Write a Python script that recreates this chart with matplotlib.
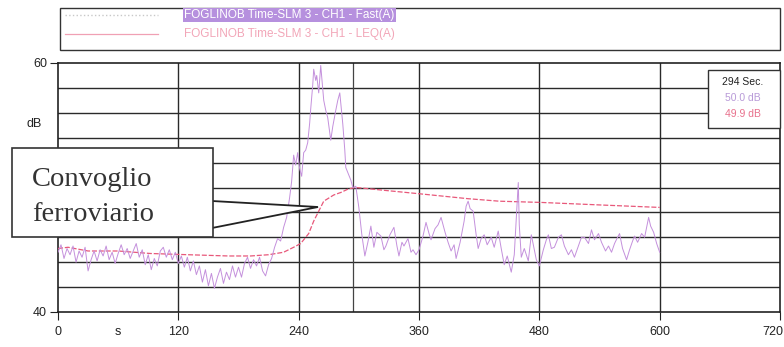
import matplotlib
matplotlib.use('Agg')
import matplotlib.pyplot as plt
import matplotlib.transforms as mtransforms
from matplotlib.patches import Rectangle, Polygon
from matplotlib.lines import Line2D

# Fast(A) trace (time s, level dB)
t_fast = [0, 3, 6, 9, 12, 15, 18, 21, 24, 27, 30, 33, 36, 39, 42, 45, 48, 51, 54, 57,
          60, 63, 66, 69, 72, 75, 78, 81, 84, 87, 90, 93, 96, 99, 102, 105, 108, 111, 114, 117,
          120, 123, 126, 129, 132, 135, 138, 141, 144, 147, 150, 153, 156, 159, 162, 165, 168, 171, 174, 177,
          180, 183, 186, 189, 192, 195, 198, 201, 204, 207, 210, 213, 216, 219, 222, 225, 228, 231, 233, 235,
          237, 239, 241, 243, 245, 247, 249, 251, 252, 254, 255, 257, 258, 260, 262, 264, 265, 267, 269, 272,
          274, 277, 279, 281, 284, 286, 287, 290, 292, 294, 297, 300, 303, 306, 309, 312, 315, 318, 322, 325,
          327, 331, 335, 338, 340, 343, 345, 349, 352, 354, 357, 360, 364, 367, 370, 372, 376, 379, 382, 386,
          389, 392, 395, 397, 401, 405, 407, 409, 411, 414, 417, 419, 422, 425, 428, 432, 435, 439, 442, 445,
          448, 452, 455, 457, 459, 460, 462, 465, 469, 472, 475, 477, 480, 484, 487, 489, 492, 495, 499, 502,
          505, 509, 512, 515, 519, 522, 525, 529, 532, 535, 539, 542, 546, 549, 552, 555, 558, 560, 563, 567,
          570, 573, 575, 578, 582, 585, 589, 591, 594, 597, 600]
fast_db = [44.8, 45.4, 44.3, 45.1, 44.6, 45.3, 44.0, 44.9, 44.4, 45.2, 43.3, 44.2, 44.9, 44.1, 45.0, 44.5, 45.3, 44.2, 44.8, 43.9,
           44.7, 45.4, 44.6, 45.1, 44.3, 44.9, 45.5, 44.4, 45.0, 43.8, 44.6, 43.4, 44.3, 43.7, 44.9, 45.2, 44.4, 45.0, 44.2, 44.8,
           43.9, 44.5, 43.6, 44.4, 43.3, 44.1, 43.0, 43.7, 42.4, 43.4, 42.1, 43.1, 41.9, 42.8, 43.5, 42.3, 43.2, 42.6, 43.7, 42.8,
           43.6, 42.8, 43.9, 44.4, 43.5, 44.2, 43.7, 44.4, 43.3, 42.9, 43.8, 44.3, 45.2, 45.9, 45.7, 46.8, 47.6, 49.2, 50.5, 52.6,
           51.8, 52.8, 51.5, 50.9, 52.8, 53.0, 53.6, 55.2, 56.3, 58.2, 59.5, 58.6, 59.0, 57.6, 59.8, 58.0, 57.0, 56.2, 55.6, 53.8,
           54.9, 56.2, 57.0, 57.6, 55.1, 53.0, 51.6, 51.0, 50.6, 50.0, 50.1, 48.4, 46.2, 44.5, 45.6, 46.9, 45.2, 46.4, 46.1, 45.0,
           45.3, 46.2, 46.8, 45.3, 44.5, 45.6, 45.3, 45.9, 44.8, 45.0, 44.6, 45.0, 46.1, 47.2, 46.3, 45.8, 46.7, 47.0, 47.6, 46.4,
           45.6, 44.9, 45.4, 44.3, 45.6, 47.3, 48.5, 48.9, 48.3, 48.1, 46.2, 45.1, 45.9, 46.2, 45.4, 46.0, 45.2, 46.5, 45.1, 43.8,
           44.5, 43.2, 44.6, 47.5, 50.4, 47.0, 44.4, 45.1, 44.1, 46.2, 45.0, 44.2, 43.7, 45.0, 45.8, 46.2, 45.1, 45.2, 46.0, 46.2,
           45.3, 44.6, 45.0, 44.4, 45.3, 46.0, 46.0, 45.5, 46.6, 45.8, 46.3, 45.6, 44.9, 45.3, 44.8, 45.5, 46.0, 46.3, 45.1, 44.2,
           45.0, 45.7, 46.1, 45.6, 46.3, 46.0, 47.6, 46.9, 46.4, 45.5, 44.8]

# LEQ(A) running level
t_leq = [0, 10, 30, 60, 92, 130, 170, 192, 210, 225, 235, 242, 250, 255, 260, 265, 275, 282,
         290, 297, 310, 322, 360, 409, 440, 482, 540, 570, 600]
leq_db = [45.1, 45.2, 44.9, 44.9, 44.7, 44.6, 44.5, 44.5, 44.6, 44.8, 45.2, 45.5, 46.3, 47.3,
          48.1, 48.9, 49.4, 49.6, 49.9, 50.0, 49.9, 49.8, 49.5, 49.1, 48.9, 48.8, 48.6, 48.5, 48.4]

x_ticks = [0, 120, 240, 360, 480, 600, 720]
cursor_t = 294
legend_names = ['FOGLINOB Time-SLM 3 - CH1 - Fast(A)', 'FOGLINOB Time-SLM 3 - CH1 - LEQ(A)']
cursor_texts = ['294 Sec.', '50.0 dB', '49.9 dB']

W, H = 784, 347
fast_col = '#c490dc'
leq_col = '#e8587a'

def P(x, y):
    # pixel position (from top-left) -> figure fraction
    return (x / W, 1 - y / H)

fig = plt.figure(figsize=(W / 100, H / 100), dpi=100)
ax = fig.add_axes([58 / W, 1 - 312 / H, 722 / W, 249 / H])

ax.set_xlim(0, 720)
ax.set_ylim(40, 60)
for yv in range(42, 60, 2):
    ax.axhline(yv, color='#2a2a2a', lw=1.0, zorder=1)
for xv in x_ticks[1:-1]:
    ax.axvline(xv, color='#2a2a2a', lw=1.0, zorder=1)
ax.axvline(cursor_t, color='#444444', lw=0.9, zorder=1)

ax.plot(t_leq, leq_db, color=leq_col, lw=0.9, ls=(0, (4, 1.5)), zorder=3)
ax.plot(t_fast, fast_db, color=fast_col, lw=0.7, zorder=4)

for s in ax.spines.values():
    s.set_color('#222222')
    s.set_linewidth(1.2)

ax.set_xticks(x_ticks)
ax.set_xticklabels([str(v) for v in x_ticks])
ax.set_xticks([60], minor=True)
ax.set_xticklabels(['s'], minor=True)
ax.set_yticks([40, 60])
ax.set_yticklabels(['40', '60'])
ax.tick_params(axis='x', which='major', length=6, pad=4, labelsize=9, colors='#222222')
ax.tick_params(axis='x', which='minor', length=0, pad=10, labelsize=9, colors='#222222')
ax.tick_params(axis='y', length=6, pad=2, labelsize=9, colors='#222222')
for lab in ax.get_xticklabels() + ax.get_yticklabels() + ax.get_xticklabels(minor=True):
    lab.set_family('Liberation Sans')
# last label sits against the right edge of the page
last = ax.get_xticklabels()[-1]
last.set_horizontalalignment('right')
last.set_transform(last.get_transform() + mtransforms.ScaledTranslation(3 / 100, 0, fig.dpi_scale_trans))
ax.text(-24, 55.1, 'dB', fontsize=9, family='Liberation Sans', color='#222222',
        ha='center', va='center', clip_on=False)

# legend box at the top
fig.add_artist(Rectangle(P(60, 50), 720 / W, 42 / H, transform=fig.transFigure,
                         facecolor='white', edgecolor='#333333', lw=1.0))
fig.add_artist(Line2D([65 / W, 158 / W], [1 - 15 / H] * 2, transform=fig.transFigure,
                      color='#c8c8c8', lw=1.0, ls=':'))
fig.add_artist(Line2D([65 / W, 158 / W], [1 - 34 / H] * 2, transform=fig.transFigure,
                      color='#f0a0b4', lw=0.9))
fig.text(*P(184, 15), legend_names[0], fontsize=8.5, family='Liberation Sans', color='white',
         va='center', ha='left',
         bbox=dict(boxstyle='square,pad=0.1', facecolor='#b690de', edgecolor='none'))
fig.text(*P(184, 34), legend_names[1], fontsize=8.5, family='Liberation Sans', color='#f2a6b8',
         va='center', ha='left')

# cursor readout box
fig.add_artist(Rectangle(P(708, 128), 72 / W, 58 / H, transform=fig.transFigure,
                         facecolor='white', edgecolor='#333333', lw=1.0))
for txt, yy, col in zip(cursor_texts, [82, 98, 114], ['#222222', '#b89ad8', '#e8708c']):
    fig.text(*P(743, yy), txt, fontsize=7.5, family='Liberation Sans', color=col,
             ha='center', va='center')

# callout
fig.add_artist(Polygon([P(212, 201), P(318, 207), P(212, 228)], closed=True,
                       transform=fig.transFigure, facecolor='white', edgecolor='#222222', lw=1.3))
fig.add_artist(Rectangle(P(12, 237), 201 / W, 89 / H, transform=fig.transFigure,
                         facecolor='white', edgecolor='#333333', lw=1.2))
fig.text(*P(32, 180), 'Convoglio', fontsize=20.5, family='Liberation Serif', color='#333333',
         ha='left', va='center')
fig.text(*P(32, 214), 'ferroviario', fontsize=20.5, family='Liberation Serif', color='#333333',
         ha='left', va='center')

fig.savefig('out.png', dpi=100)
